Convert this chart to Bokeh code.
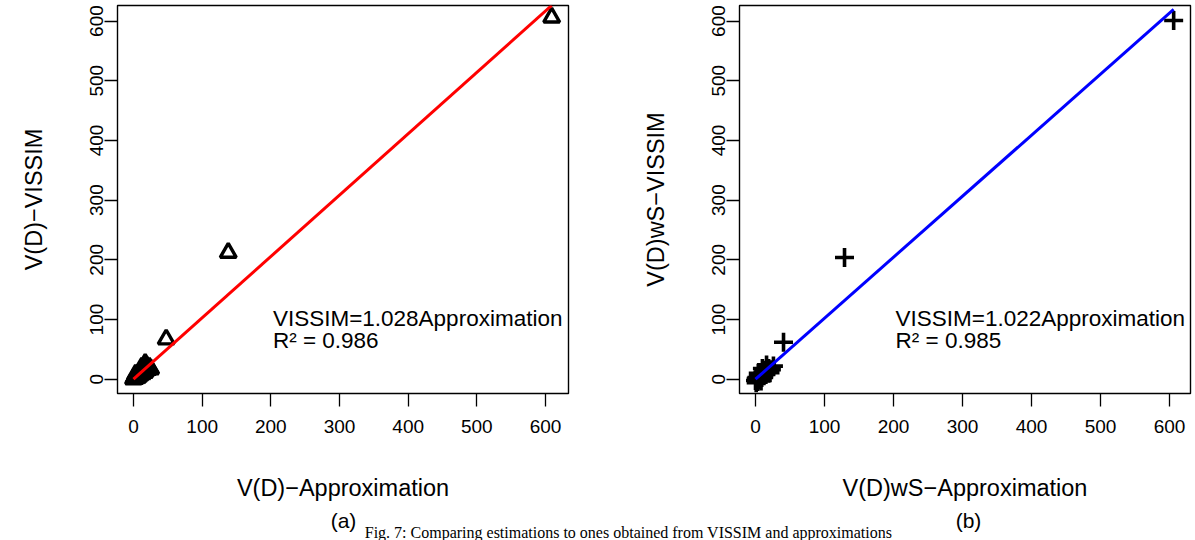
from bokeh.plotting import figure
from bokeh.layouts import row, column
from bokeh.models import Range1d, FixedTicker
from bokeh.core.properties import value
from bokeh.embed import file_html
from bokeh.resources import INLINE

# ---- data ----
approx_a = [0, 1, 2, 2, 3, 4, 4, 5, 6, 6, 7, 8, 8, 9, 10, 10, 11, 12, 13, 14, 15, 16, 18, 19, 21, 23, 25, 17, 12, 3, 47.6, 138, 609]
vissim_a = [0, 2, 1, 4, 3, 6, 2, 5, 8, 3, 6, 10, 5, 8, 13, 7, 10, 15, 9, 12, 18, 11, 14, 22, 16, 20, 17, 26, 20, 8, 67, 212, 606]
slope_a = 1.028
r2_a = 0.986

approx_b = [0, 1, 2, 2, 3, 4, 5, 5, 6, 7, 8, 9, 10, 11, 12, 13, 14, 15, 17, 19, 21, 23, 26, 16, 10, 4, 1, 8, 40.6, 129, 606]
vissim_b = [-2, 1, 0, 3, -4, 4, 2, 7, -1, 5, 9, 3, 7, 12, 6, 10, 15, 8, 13, 18, 11, 16, 22, 24, 18, 10, -6, -3, 62, 204, 601]
slope_b = 1.022
r2_b = 0.985

ticks = [0, 100, 200, 300, 400, 500, 600]
panel_labels = ["(a)", "(b)"]
caption = "Fig. 7: Comparing estimations to ones obtained from VISSIM and approximations"

FONT = "Liberation Sans"


def make_panel(x, y, slope, r2, xlabel, ylabel, marker, line_color, left_border, right_border, xr):
    p = figure(width=left_border + 451 + right_border, height=506,
               x_range=Range1d(*xr), y_range=Range1d(-23.9, 626),
               output_backend="svg", toolbar_location=None,
               min_border_left=left_border, min_border_right=right_border,
               min_border_top=5, min_border_bottom=113)
    p.grid.visible = False
    p.outline_line_color = "black"
    p.outline_line_width = 1.4
    p.background_fill_color = "white"
    p.border_fill_color = "white"
    for ax in (p.xaxis[0], p.yaxis[0]):
        ax.ticker = FixedTicker(ticks=ticks)
        ax.minor_tick_line_color = None
        ax.axis_line_color = None
        ax.major_tick_line_color = "black"
        ax.major_tick_line_width = 1.3
        ax.major_tick_out = 13
        ax.major_tick_in = 0
        ax.major_label_text_font = FONT
        ax.major_label_text_font_size = "19px"
        ax.major_label_text_color = "black"
        ax.axis_label_text_font = FONT
        ax.axis_label_text_font_size = "23.5px"
        ax.axis_label_text_font_style = "normal"
        ax.axis_label_text_color = "black"
    p.xaxis.axis_label = xlabel
    p.yaxis.axis_label = ylabel
    p.xaxis.major_label_standoff = 13
    p.xaxis.axis_label_standoff = 39
    p.yaxis.major_label_standoff = 1
    p.yaxis.axis_label_standoff = 41
    p.yaxis.major_label_orientation = "vertical"

    if marker == "triangle":
        p.scatter(x, y, marker="triangle", size=16, line_width=3.4,
                  line_color="black", fill_color=None)
    else:
        p.scatter(x, y, marker="cross", size=19, line_width=3.6,
                  line_color="black")
    x0, x1 = min(x), max(x)
    p.line([x0, x1], [slope * x0, slope * x1], line_color=line_color, line_width=3)

    p.text(x=[203], y=[102], text=["VISSIM=%.3fApproximation" % slope],
           text_font=value(FONT), text_font_size="22.5px", text_color="black",
           text_align="left", text_baseline="alphabetic")
    p.text(x=[203], y=[65], text=["R\u00b2 = %.3f" % r2],
           text_font=value(FONT), text_font_size="22.5px", text_color="black",
           text_align="left", text_baseline="alphabetic")
    return p


p1 = make_panel(approx_a, vissim_a, slope_a, r2_a,
                "V(D)\u2212Approximation", "V(D)\u2212VISSIM",
                "triangle", "#FF0000", 117, 32, (-23.3, 633.5))
p2 = make_panel(approx_b, vissim_b, slope_b, r2_b,
                "V(D)wS\u2212Approximation", "V(D)wS\u2212VISSIM",
                "cross", "#0000FF", 139, 5, (-23.2, 630.4))

p3 = figure(width=1195, height=34, x_range=Range1d(0, 1195), y_range=Range1d(0, 34),
            output_backend="svg", toolbar_location=None, min_border=0)
p3.axis.visible = False
p3.grid.visible = False
p3.outline_line_color = None
p3.text(x=[343, 968], y=[20, 20], text=panel_labels, text_font=value(FONT),
        text_font_size="21px", text_color="black", text_align="center",
        text_baseline="middle")
p3.text(x=[628], y=[8], text=[caption],
        text_font=value("Liberation Serif"), text_font_size="16px", text_color="black",
        text_align="center", text_baseline="alphabetic")

layout = column(row(p1, p2), p3)
open("out.html", "w").write(file_html(layout, INLINE))
